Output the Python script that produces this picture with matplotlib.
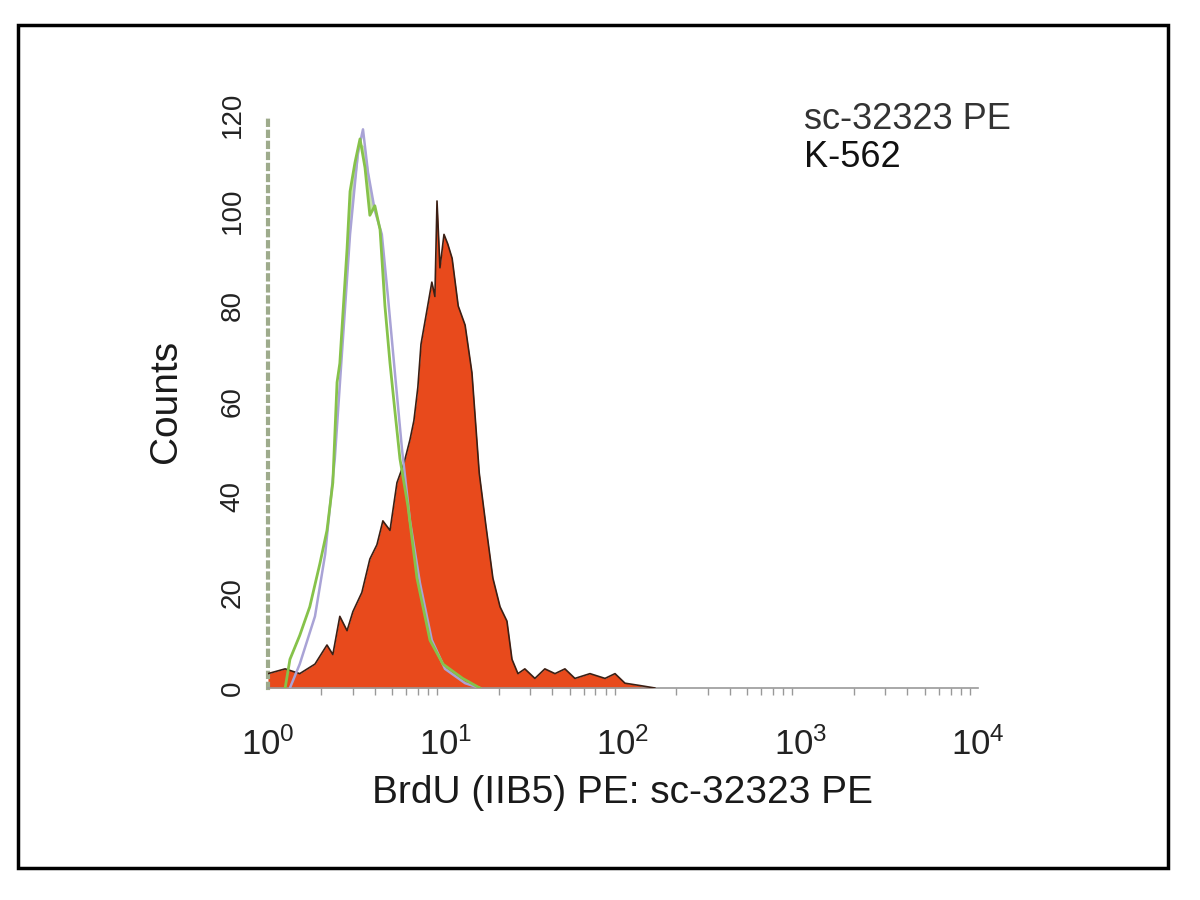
"""
Flow cytometry histogram: BrdU (IIB5) PE staining of K-562 cells.
"""

import numpy as np
import matplotlib
matplotlib.use("Agg")
import matplotlib.pyplot as plt
from matplotlib.patches import Rectangle
from matplotlib.ticker import LogLocator, NullFormatter

plt.rcParams['font.family'] = ['Liberation Sans Narrow', 'Liberation Sans', 'DejaVu Sans']
plt.rcParams['mathtext.default'] = 'regular'

# Sample (red filled) histogram: fluorescence, counts
red_x = [1.00, 1.25, 1.51, 1.84, 2.15, 2.32, 2.54, 2.79, 3.01, 3.38, 3.75, 4.11,
         4.44, 4.87, 5.33, 5.83, 6.31, 6.64, 6.99, 7.28, 7.77, 8.38, 8.72, 8.96,
         9.31, 9.81, 10.3, 10.9, 11.8, 12.9, 14.1, 15.5, 16.9, 18.5, 20.3, 22.2,
         23.7, 25.6, 28.0, 31.9, 36.3, 41.4, 47.1, 53.6, 65.2, 79.2, 90.2, 102.6,
         125.0, 151.0]
red_y = [3, 4, 3, 5, 9, 7, 15, 12, 16, 20, 27, 30,
         35, 33, 43, 47, 52, 56, 63, 72, 78, 85, 82, 102,
         88, 95, 93, 90, 80, 76, 66, 45, 34, 23, 17, 14,
         6, 3, 4, 2, 4, 3, 4, 2, 3, 2, 3, 1,
         0.5, 0]

# Control (green) histogram
green_x = [1.25, 1.33, 1.51, 1.72, 1.96, 2.15, 2.32, 2.45, 2.54, 2.64, 2.79, 2.90,
           3.09, 3.30, 3.52, 3.75, 4.00, 4.28, 4.56, 4.87, 5.19, 5.54, 6.15, 6.91,
           8.18, 9.68, 12.5, 15.6]
green_y = [0, 6, 11, 17, 26, 33, 43, 64, 68, 78, 92, 104,
           110, 115, 109, 99, 101, 96, 80, 68, 58, 48, 38, 23,
           10, 5, 2, 0]

# Second control (lavender) histogram
blue_x = [1.33, 1.51, 1.84, 2.10, 2.38, 2.61, 2.90, 3.21, 3.43, 3.66, 4.00, 4.38,
          4.74, 5.19, 5.69, 6.31, 7.18, 8.38, 9.94, 12.9, 15.6]
blue_y = [0, 5, 15, 28, 48, 70, 95, 112, 117, 108, 100, 95,
          82, 66, 50, 35, 22, 10, 4, 1, 0]

x_ticks = [1, 10, 100, 1000, 10000]
x_tick_labels = [r'$10^{0}$', r'$10^{1}$', r'$10^{2}$', r'$10^{3}$', r'$10^{4}$']
y_ticks = [0, 20, 40, 60, 80, 100, 120]

fig = plt.figure(figsize=(12, 9), dpi=100)
ax = fig.add_axes([0.2233, 0.2356, 0.5917, 0.6366])

# light green shading between the two control curves near the peak
gx = np.array(green_x)
blue_on_green = np.interp(np.log10(gx), np.log10(blue_x), blue_y)
ax.fill_between(gx, green_y, blue_on_green, where=(gx > 2.6) & (gx < 4.7),
                color='#c6e4a8', lw=0, zorder=1)

ax.fill_between(red_x, red_y, 0, color='#e84a1c', lw=0, zorder=2)
ax.plot(red_x, red_y, color='#3b1f14', lw=1.2, zorder=3)
ax.plot(blue_x, blue_y, color='#a9a3d6', lw=1.8, zorder=4)
ax.plot(green_x, green_y, color='#86c24a', lw=2.0, zorder=5)

ax.set_xscale('log')
ax.set_xlim(1, 10000)
ax.set_ylim(0, 120)
ax.set_xticks(x_ticks)
ax.set_xticklabels(x_tick_labels, fontsize=25, color='#222222')
ax.xaxis.set_minor_locator(LogLocator(base=10, subs=np.arange(2, 10)))
ax.xaxis.set_minor_formatter(NullFormatter())
ax.tick_params(axis='x', which='major', length=0, pad=28)
ax.tick_params(axis='x', which='minor', length=5, width=1, color='#999999')
ax.set_yticks(y_ticks)
ax.set_yticklabels([str(v) for v in y_ticks], fontsize=20, rotation=90,
                   va='center', color='#222222')
ax.tick_params(axis='y', length=0, pad=16)

for side in ['top', 'right']:
    ax.spines[side].set_visible(False)
ax.spines['bottom'].set_color('#999999')
ax.spines['bottom'].set_linewidth(1.2)
ax.spines['left'].set_color('#9eab8c')
ax.spines['left'].set_linestyle(':')
ax.spines['left'].set_linewidth(3)

ax.set_xlabel('BrdU (IIB5) PE: sc-32323 PE', fontsize=28, color='#1a1a1a', labelpad=10)
ax.set_ylabel('Counts', fontsize=28, color='#1a1a1a', labelpad=26)

ax.text(0.755, 1.022, 'sc-32323 PE', transform=ax.transAxes, fontsize=26,
        color='#333333', va='top', ha='left')
ax.text(0.755, 0.957, 'K-562', transform=ax.transAxes, fontsize=26,
        color='#111111', va='top', ha='left')

# outer frame around the whole picture
fig.add_artist(Rectangle((0.015, 0.036), 0.958, 0.936, transform=fig.transFigure,
                         fill=False, edgecolor='black', linewidth=2.5))

fig.savefig('out.png', dpi=100)
